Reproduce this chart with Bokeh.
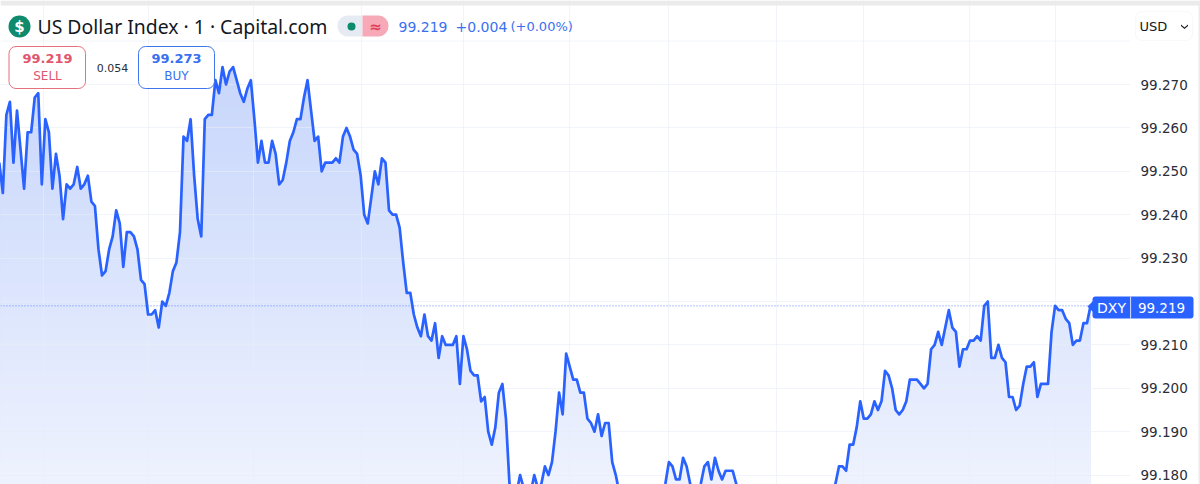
import numpy as np
from bokeh.plotting import figure
from bokeh.embed import file_html
from bokeh.resources import INLINE
from bokeh.models import Range1d, FixedTicker, Span, Label, BoxAnnotation, PolyAnnotation, LinearAxis

title = "US Dollar Index · 1 · Capital.com"
currency = "USD"
symbol = "DXY"
last_price = 99.219
bid_text = "99.219"
ask_text = "99.273"
spread_text = "0.054"
change_text = "+0.004"
change_pct_text = "(+0.00%)"
price_ticks = [99.18, 99.19, 99.20, 99.21, 99.22, 99.23, 99.24, 99.25, 99.26, 99.27]
tick_labels = {99.18: "99.180", 99.19: "99.190", 99.20: "99.200", 99.21: "99.210", 99.22: "",
               99.23: "99.230", 99.24: "99.240", 99.25: "99.250", 99.26: "99.260", 99.27: "99.270"}
time_grid_bars = [11.5, 41, 70.7, 101.2, 130, 160, 188, 218.4, 243, 272.9, 297]

# thousandths above 99.000, one per bar from bar -1
prices_a = [252,245,263,266,252,264,255,246,259,259,267,268,247,262,259,246,254,249,239,247,
            246,247,251,246,247,249,243,242,232,226,227,232,235,241,238,228,236,236,235,232,
            225,224,217,217,218,214,220,219,222,227,229,236,258,257,262,249,239,235,262,263,
            263,271,268,274,270,273,274,271,268,266,269,271,262,252,257,252,252,257,254,247,
            248,252,257,259,262,262]
prices_b = [267,271,264,257,258,250,252,252,252,253,252,258,260,258,255,254,249,240,238,244,
            250,247,253,252,241,240,240,237,229,222,222,217,214,212,217,212,211,215,207,212,
            210,210,210,212,201,212,209,204,203,203,197,198,190,187,191,199,201,193,178,173,
            176,180,177,175,176,180,177,178,182,180,183,190,199,194,208,205,202,202,199,199,
            193,192,190,194,189,192,192,183,180,176]
prices_c = [172,170,169,170,171,172,171,170,171,172,173,175,178,183,182,179,179,184,182,178,
            176,175,178,182,183,179,184,181,179,181,181,181,178]
prices_d = [175,174,173,172,172,171,170,170,171,172,173,172,171,171,170,170,171,172,172,173,
            174,175,175,176,176,176,176]
prices_e = [178,182,182,181,187,187,191,197,193,193,194,197,195,197,204,203,200,195,194,195,
            197,202,202,202,201,200,201,209,210,213,210,214,218,214,213,205,209,209,211,211,
            212,211,219,220,207,207,210,207,206,198,198,195,196,201,205,205,206,198,201,201,
            201,213,219,218,218,216,215,210,211,211,215,215,219]
thousandths = (prices_a + prices_b + prices_c + prices_d + prices_e)[:310]
prices = [round(99 + t / 1000, 3) for t in thousandths]
bars = list(range(-1, -1 + len(prices)))

PX0, PX_BAR = 2.33, 3.543
PY0, PY_UNIT = 84.0, 4340.0
def bx(px): return (px - PX0) / PX_BAR
def vy(py): return 99.27 + (PY0 - py) / PY_UNIT

W, H = 1200, 484
SCALE_X = 1130
p = figure(width=W, height=H, output_backend="svg", toolbar_location=None,
           x_range=Range1d(bx(0), bx(W)), y_range=Range1d(vy(H), vy(0)),
           y_axis_location=None, min_border=0, outline_line_color=None, background_fill_color="white",
           border_fill_color="white")
p.xaxis.visible = False

yaxis = LinearAxis(fixed_location=bx(SCALE_X), ticker=FixedTicker(ticks=price_ticks),
                   major_label_overrides=tick_labels, axis_line_color=None, major_tick_line_color=None,
                   minor_tick_line_color=None, major_label_standoff=4, major_label_text_font="DejaVu Sans",
                   major_label_text_font_size="13.5px", major_label_text_color="#2a2e39", level="overlay")
p.add_layout(yaxis, "right")

p.xgrid.ticker = FixedTicker(ticks=time_grid_bars)
p.ygrid.ticker = FixedTicker(ticks=price_ticks)
for g in (p.xgrid, p.ygrid):
    g.grid_line_color = "#e8ecf5"
    g.grid_line_alpha = 0.6
    g.level = "guide"

x = np.array(bars, dtype=float)
yv = np.array(prices)
bottom = vy(H)
tops = np.linspace(99.278, bottom, 70)
c0 = np.array([198, 213, 251]); c1 = np.array([238, 242, 254])
for i, t in enumerate(tops[:-1]):
    c = c0 + (c1 - c0) * i / (len(tops) - 2)
    col = "#%02x%02x%02x" % tuple(int(round(v)) for v in c)
    p.varea(x=x, y1=np.full_like(yv, bottom), y2=np.minimum(yv, t), fill_color=col, fill_alpha=1.0, level="underlay")

p.line(bars, prices, line_color="#2962ff", line_width=2.7, line_join="round", level="annotation")
p.add_layout(Span(location=vy(40.5), dimension="width", line_color="#e8ecf5", line_alpha=0.6, line_width=1, level="guide"))
p.add_layout(Span(location=last_price, dimension="width", line_color="#2962ff", line_width=1,
                  line_dash="1 2", line_alpha=0.7, level="annotation"))

def box(l, r, t, b, fill, line=None, radius=0, alpha=1.0, lw=1, level="overlay"):
    p.add_layout(BoxAnnotation(left=l, right=r, top=t, bottom=b,
                               left_units="canvas", right_units="canvas", top_units="canvas", bottom_units="canvas",
                               fill_color=fill, fill_alpha=alpha, line_color=line, line_alpha=1.0, line_width=lw,
                               border_radius=radius, level=level))

def text(px, py, s, size, color, align="left", font="DejaVu Sans", style="normal"):
    p.add_layout(Label(x=px, y=py, x_units="canvas", y_units="canvas", text=s, text_font=font,
                       text_font_size=f"{size}px", text_color=color,
                       text_align=align, text_baseline="middle", text_font_style=style, level="overlay"))

def poly(xs, ys, fill):
    p.add_layout(PolyAnnotation(xs=xs, ys=ys, xs_units="canvas", ys_units="canvas", fill_color=fill, fill_alpha=1,
                                line_color=None, level="overlay"))

# price scale background hides grid lines
box(SCALE_X, W, 0, H, "white", level="annotation")

# page surround
box(0, 1200, 0, 5, "#ebebeb", level="annotation")
box(1198, 1200, 0, 484, "#ebebeb", level="annotation")

# header
box(8, 30, 15, 37, "#0e8a6c", radius=11)
text(19, 26, "$", 15, "white", "center", style="bold")
text(37, 26, title, 19.4, "#131722", font="Noto Sans")
box(337, 362, 15, 36, "#e6ebf3", radius=(10, 0, 0, 10))
box(362, 388, 15, 36, "#f7a9b8", radius=(0, 10, 10, 0))
box(347, 355, 22, 30, "#0e8a6c", radius=4)
text(375, 26, "≈", 15, "#e0405a", "center", style="bold")
text(398, 26, bid_text, 14, "#3a70f0")
text(455, 26, change_text, 14, "#3a70f0")
text(510, 26, change_pct_text, 13, "#3a70f0")

# sell / buy
box(8.5, 85, 46, 88, "white", "#e5717f", radius=7, alpha=0.75)
text(47, 58, bid_text, 13, "#e0566e", "center", style="bold")
text(47, 75, "SELL", 12, "#e0566e", "center")
text(112, 67, spread_text, 11, "#2a2e39", "center")
box(138, 214, 46, 88, "white", "#3f74ea", radius=7, alpha=0.75)
text(176, 58, ask_text, 13, "#3a70f0", "center", style="bold")
text(176, 75, "BUY", 12, "#3a70f0", "center")

# currency button
box(1135, 1192, 11, 40, "white", "#f7f8fa", radius=6)
text(1139, 26, currency, 13, "#131722")
poly([1180.5, 1184, 1187.5, 1187.5, 1184, 1180.5], [24, 27, 24, 25.5, 28.5, 25.5], "#131722")

# last price tag
poly([1087, 1093, 1093], [306, 300, 312], "#2962ff")
box(1092, 1193, 296, 318, "#2962ff", radius=3)
box(1129.6, 1130.6, 296, 318, "#d5e0ff")
text(1111, 307, symbol, 14, "white", "center")
text(1161, 307, f"{last_price:.3f}", 13.5, "white", "center")

open("out.html", "w").write(file_html(p, INLINE))
